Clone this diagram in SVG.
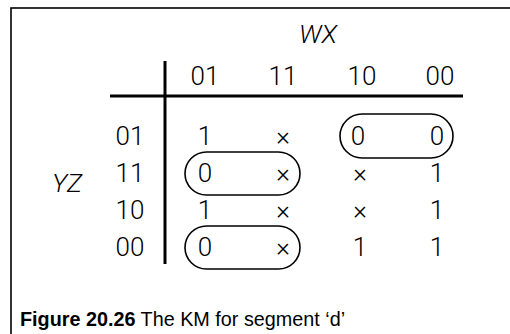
<svg xmlns="http://www.w3.org/2000/svg" width="510" height="334" viewBox="0 0 510 334">
<style>
.t{font-family:Roboto,"Liberation Sans",sans-serif;font-weight:300;font-size:26px;fill:#000;text-anchor:middle}
.i{font-style:italic}
.loop{fill:none;stroke:#000;stroke-width:1.6}
.cap{font-family:"Liberation Sans",Arial,sans-serif;font-size:19.8px;fill:#000}
</style>
<rect x="11" y="8" width="530" height="360" fill="#fff" stroke="#000" stroke-width="1.6"/>
<g id="grid">
<line x1="165" y1="61" x2="165" y2="264" stroke="#000" stroke-width="3"/>
<line x1="110" y1="96" x2="463" y2="96" stroke="#000" stroke-width="3"/>
</g>
<g id="labels">
<text class="t i" x="318" y="43" font-size="27">WX</text>
<text class="t i" x="67" y="192">YZ</text>
<text class="t" x="205" y="85">01</text>
<text class="t" x="283" y="85">11</text>
<text class="t" x="362" y="85">10</text>
<text class="t" x="440" y="85">00</text>
<text class="t" x="130" y="145">01</text>
<text class="t" x="130" y="182">11</text>
<text class="t" x="130" y="219">10</text>
<text class="t" x="130" y="256">00</text>
</g>
<g id="cells">
<text class="t" x="205" y="145">1</text>
<text class="t" x="283" y="145">×</text>
<text class="t" x="358" y="145">0</text>
<text class="t" x="437" y="145">0</text>
<text class="t" x="205" y="182">0</text>
<text class="t" x="283" y="182">×</text>
<text class="t" x="360" y="182">×</text>
<text class="t" x="437" y="182">1</text>
<text class="t" x="205" y="219">1</text>
<text class="t" x="283" y="219">×</text>
<text class="t" x="360" y="219">×</text>
<text class="t" x="437" y="219">1</text>
<text class="t" x="205" y="256">0</text>
<text class="t" x="283" y="256">×</text>
<text class="t" x="360" y="256">1</text>
<text class="t" x="437" y="256">1</text>
</g>
<g id="loops">
<rect id="loop1" class="loop" x="340" y="114" width="113" height="44" rx="22"/>
<rect id="loop2" class="loop" x="185" y="152" width="115" height="43" rx="21.5"/>
<rect id="loop3" class="loop" x="185" y="226" width="115" height="43" rx="21.5"/>
</g>
<text class="cap" x="20" y="326"><tspan font-weight="bold">Figure 20.26</tspan> The KM for segment ‘d’</text>
</svg>
